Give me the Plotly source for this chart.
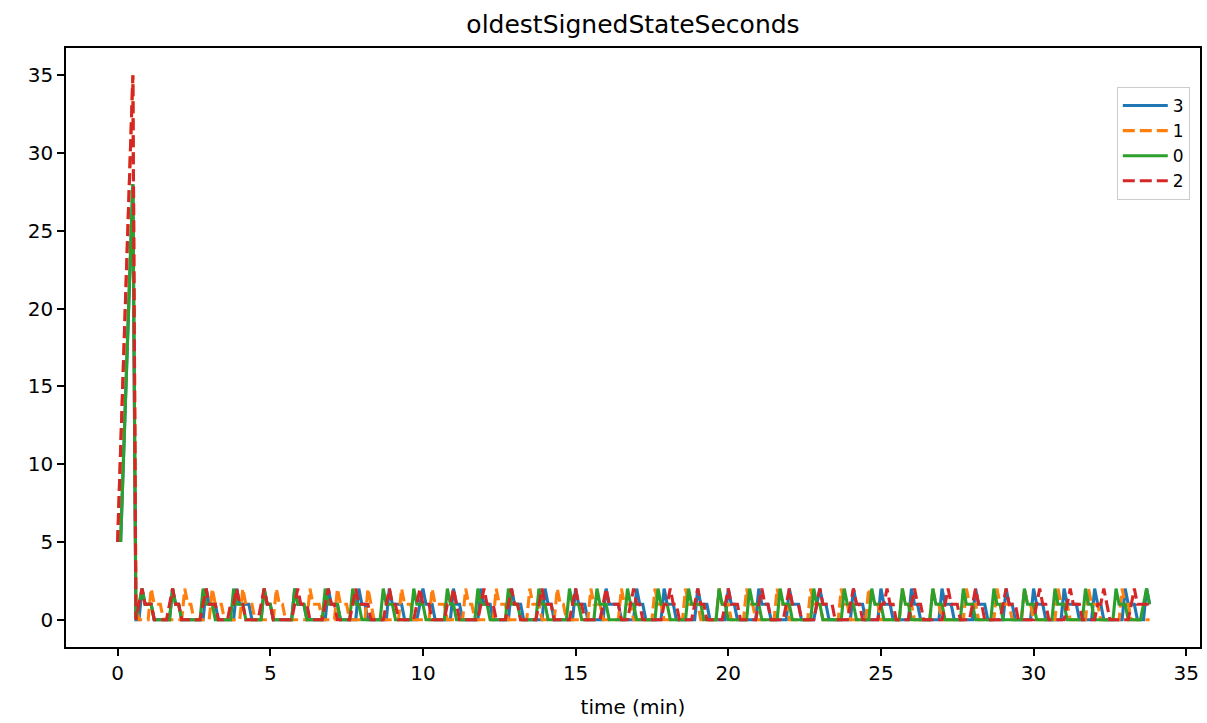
import plotly.graph_objects as go

DT_MIN = 0.1  # sample interval (minutes)

# series "3" (blue)
s3 = ([None, 5, 11, 17, 23, 28, 0, 0]
      + [2, 1, 1, 1, 0, 0, 0, 0, 0, 0]
      + [2, 1, 1, 0, 0, 0, 0, 0, 0, 0, 0]
      + [2, 1, 1, 1, 0, 0, 0, 0, 0, 0]
      + [2, 1, 1, 1, 1, 0, 0, 0, 0]
      + [2, 1, 1, 0, 0, 0, 0, 0, 0, 0]
      + [2, 1, 1, 1, 0, 0, 0, 0, 0, 0, 0]
      + [2, 1, 1, 1, 0, 0, 0, 0, 0, 0]
      + [2, 1, 1, 0, 0, 0, 0, 0, 0, 0]
      + [2, 1, 1, 1, 1, 0, 0, 0, 0, 0, 1]
      + [2, 1, 1, 1, 0, 0, 0, 0, 0, 0]
      + [2, 1, 1, 0, 0, 0, 0, 0, 0]
      + [2, 1, 1, 1, 0, 0, 0, 0, 0, 0]
      + [2, 1, 1, 1, 0, 0, 0, 0, 0, 0, 0]
      + [2, 1, 1, 0, 0, 0, 0, 0, 0, 0]
      + [2, 1, 1, 1, 0, 0, 0, 0, 0, 0]
      + [2, 1, 1, 1, 1, 0, 0, 0, 0, 0]
      + [2, 1, 1, 0, 0, 0, 0, 0, 0]
      + [2, 1, 1, 1, 0, 0, 0, 0, 0, 0, 0]
      + [2, 1, 1, 1, 0, 0, 0, 0, 0, 0]
      + [2, 1, 1, 0, 0, 0, 0, 0, 0, 0]
      + [2, 1, 1, 1, 0, 0, 0, 0, 0, 0]
      + [2, 1, 1, 1, 0, 0, 0, 0, 0, 1]
      + [2, 1, 1, 0, 0, 0, 0, 0, 0, 0, 0]
      + [2, 1, 1, 1, 0, 0, 0, 0, 0]
      + [2, 1, 1, 1, 0, 0, 0, 0, 0, 0]
      + [2, 1, 1, 0, 0, 0, 0, 0, 0, 0]
      + [2, 1, 1, 1, 0, 0, 0, 0, 0, 0, 0]
      + [2, 1, 1, 1, 0, 0, 0, 0, 0, 0]
      + [2, 1, 1, 0, 0, 0, 0, 0, 0]
      + [2, 1, 1, 1, 0, 0, 0, 0, 0, 0]
      + [2, 1, 1, 1, 1, 0, 0, 0, 0, 0]
      + [2, 1, 1, 0, 0, 0, 0, 0, 0, 0]
      + [2, 1, 1, 1, 0, 0, 0, 2, 1])

# series "1" (orange)
s1 = ([5, 11, 17, 23, 29, 35, 1, 0, 0, 0, 0]
      + [2, 1, 1, 1, 0, 0, 0, 0, 0, 0, 0]
      + [2, 1, 1, 0, 0, 0, 0, 0, 0]
      + [2, 1, 1, 1, 0, 0, 0, 0, 0, 0]
      + [2, 1, 1, 1, 0, 0, 0, 0, 0, 0, 0]
      + [2, 1, 1, 0, 0, 0, 0, 0, 0, 0, 0]
      + [2, 1, 1, 1, 0, 0, 0, 0, 0]
      + [2, 1, 1, 1, 0, 0, 0, 0, 0, 0]
      + [2, 1, 0, 0, 0, 0, 0, 0, 0, 0, 0]
      + [2, 1, 1, 1, 0, 0, 0, 0, 0, 0]
      + [2, 1, 1, 1, 1, 0, 0, 0, 0, 0, 0]
      + [2, 1, 1, 0, 0, 0, 0, 0, 0, 0]
      + [2, 1, 1, 1, 0, 0, 0, 0, 0, 0, 0]
      + [2, 1, 1, 1, 0, 0, 0, 0, 0]
      + [2, 1, 1, 0, 0, 0, 0, 0, 0, 0, 0]
      + [2, 1, 1, 1, 0, 0, 0, 0, 0, 0]
      + [2, 1, 1, 1, 0, 0, 0, 0, 0, 0, 0]
      + [2, 1, 1, 0, 0, 0, 0, 0, 0, 0]
      + [2, 1, 1, 1, 1, 0, 0, 0, 0, 0, 0]
      + [2, 1, 1, 1, 0, 0, 0, 0, 0]
      + [2, 1, 1, 0, 0, 0, 0, 0, 0, 0]
      + [2, 1, 1, 1, 0, 0, 0, 0, 0, 0, 0]
      + [2, 1, 1, 1, 0, 0, 0, 0, 0, 0]
      + [2, 1, 1, 0, 0, 0, 0, 0, 0]
      + [2, 1, 1, 1, 0, 0, 0, 0, 0, 0, 0]
      + [2, 1, 1, 1, 0, 0, 0, 0, 0, 0]
      + [2, 1, 1, 0, 0, 0, 0, 0, 0, 0, 0]
      + [2, 1, 1, 1, 0, 0, 0, 0, 0, 0]
      + [2, 1, 1, 1, 1, 0, 0, 0, 0]
      + [2, 1, 1, 0, 0, 0, 0, 0, 0, 0, 0]
      + [2, 1, 1, 1, 0, 0, 0, 0, 0, 0]
      + [2, 1, 1, 1, 0, 0, 0, 0, 0, 0, 0]
      + [2, 1, 1, 0, 0, 0, 0, 0, 0, 0])

# series "0" (green)
s0 = ([None, 5, 11, 17, 23, 28, 0, 1]
      + [2, 1, 1, 1, 0, 0, 0, 0, 0, 0]
      + [2, 1, 1, 0, 0, 0, 0, 0, 0, 0]
      + [2, 1, 1, 1, 0, 0, 0, 0, 0, 0]
      + [2, 1, 1, 1, 0, 0, 0, 0, 0, 0]
      + [2, 1, 1, 0, 0, 0, 0, 0, 0, 0]
      + [2, 1, 1, 1, 0, 0, 0, 0, 0, 0]
      + [2, 1, 1, 1, 1, 0, 0, 0, 0]
      + [2, 1, 1, 0, 0, 0, 0, 0, 0, 0]
      + [2, 1, 1, 1, 0, 0, 0, 0, 0, 0]
      + [2, 1, 1, 1, 0, 0, 0, 0, 0, 0, 0]
      + [2, 1, 1, 0, 0, 0, 0, 0, 0, 0]
      + [2, 1, 1, 1, 0, 0, 0, 0, 0, 0]
      + [2, 1, 1, 1, 0, 0, 0, 0, 0, 0]
      + [2, 1, 1, 0, 0, 0, 0, 0, 0, 0]
      + [2, 1, 1, 1, 0, 0, 0, 0, 0]
      + [2, 1, 1, 1, 0, 0, 0, 0, 0, 0]
      + [2, 1, 1, 0, 0, 0, 0, 0, 0, 0]
      + [2, 1, 1, 1, 0, 0, 0, 0, 0, 0]
      + [2, 1, 1, 1, 1, 0, 0, 0, 0, 0]
      + [2, 1, 1, 0, 0, 0, 0, 0, 0, 0]
      + [2, 1, 1, 1, 0, 0, 0, 0, 0, 0]
      + [2, 1, 1, 1, 0, 0, 0, 0, 0, 0, 0]
      + [2, 1, 1, 0, 0, 0, 0, 0, 0, 0]
      + [2, 1, 1, 1, 0, 0, 0, 0, 0]
      + [2, 1, 1, 1, 0, 0, 0, 0, 0, 0]
      + [2, 1, 1, 0, 0, 0, 0, 0, 0, 0]
      + [2, 1, 1, 1, 0, 0, 0, 0, 0, 0]
      + [2, 1, 1, 1, 0, 0, 0, 0, 0, 0]
      + [2, 1, 1, 0, 0, 0, 0, 0, 0, 0]
      + [2, 1, 1, 1, 0, 0, 0, 0, 0, 0]
      + [2, 1, 1, 1, 0, 0, 0, 0, 0, 0]
      + [2, 1, 1, 0, 0, 0, 0, 0, 0, 0]
      + [2, 1, 1, 1, 0, 0, 0, 0, 0, 1, 2, 1])

# series "2" (red)
s2 = ([5, 11, 17, 23, 29, 35, 0]
      + [1, 2, 1, 1, 1, 0, 0, 0, 0, 0]
      + [1, 2, 1, 1, 0, 0, 0, 0, 0, 0, 0]
      + [1, 2, 1, 1, 1, 0, 0, 0, 0]
      + [1, 1, 2, 1, 1, 0, 0, 0, 0, 0]
      + [1, 2, 1, 1, 0, 0, 0, 0, 0, 0, 0]
      + [1, 2, 1, 1, 1, 0, 0, 0, 0, 0]
      + [1, 2, 1, 1, 0, 0, 0, 0, 0]
      + [1, 2, 1, 1, 1, 1, 0, 0, 0, 0, 0]
      + [1, 2, 1, 1, 0, 0, 0, 0, 0, 0]
      + [1, 2, 1, 1, 1, 0, 0, 0, 0, 0]
      + [1, 1, 2, 1, 0, 0, 0, 0, 0, 0, 0]
      + [1, 2, 1, 1, 1, 0, 0, 0, 0]
      + [1, 2, 1, 1, 0, 0, 0, 0, 0, 0]
      + [1, 2, 1, 1, 1, 0, 0, 0, 0, 0, 0]
      + [1, 2, 1, 1, 0, 0, 0, 0, 0, 0]
      + [1, 2, 1, 1, 1, 1, 0, 0, 0]
      + [1, 2, 1, 1, 0, 0, 0, 0, 0, 0, 0]
      + [1, 1, 2, 1, 1, 0, 0, 0, 0, 0]
      + [1, 2, 1, 1, 0, 0, 0, 0, 0, 0]
      + [1, 2, 1, 1, 1, 0, 0, 0, 0, 0, 0]
      + [1, 2, 1, 1, 0, 0, 0, 0, 0]
      + [1, 2, 1, 1, 1, 0, 0, 0, 0, 0]
      + [1, 2, 1, 1, 1, 1, 0, 0, 0, 0, 0]
      + [1, 2, 1, 1, 0, 0, 0, 0, 0, 0]
      + [1, 1, 2, 1, 1, 0, 0, 0, 0, 0]
      + [1, 2, 1, 1, 0, 0, 0, 0, 0, 0, 0]
      + [1, 2, 1, 1, 1, 0, 0, 0, 0]
      + [1, 2, 1, 1, 0, 0, 0, 0, 0, 0]
      + [1, 2, 1, 1, 1, 0, 0, 0, 0, 0, 0]
      + [1, 2, 1, 1, 0, 0, 0, 0, 0, 0]
      + [1, 2, 1, 1, 1, 0, 0, 0, 0, 0]
      + [1, 1, 2, 1, 0, 0, 0, 0, 0, 0, 0]
      + [1, 2, 1, 1, 1, 1, 1])

series_names = ["3", "1", "0", "2"]
series_values = [s3, s1, s0, s2]
series_colors = ["#1f77b4", "#ff7f0e", "#2ca02c", "#d62728"]
series_dash = ["solid", "12px,5px", "solid", "12px,5px"]

x_ticks = [0, 5, 10, 15, 20, 25, 30, 35]
y_ticks = [0, 5, 10, 15, 20, 25, 30, 35]

fig = go.Figure()
for name, vals, col, dash in zip(series_names, series_values, series_colors, series_dash):
    t = [round(DT_MIN * i, 2) for i in range(len(vals))]
    fig.add_trace(go.Scatter(
        x=t, y=vals, name=name, mode="lines",
        line=dict(color=col, width=3.1, dash=dash),
        connectgaps=False,
    ))

font_family = "DejaVu Sans"
axis_common = dict(
    showline=True, mirror=True, linecolor="black", linewidth=1.6,
    ticks="outside", ticklen=7, tickwidth=1.6, tickcolor="black",
    showgrid=False, zeroline=False,
    tickfont=dict(family=font_family, size=20, color="black"),
)

W, H = 1207, 723
fig.update_layout(
    width=W, height=H,
    margin=dict(l=66, r=7, t=48, b=76),
    paper_bgcolor="white", plot_bgcolor="white",
    title=dict(text="oldestSignedStateSeconds", x=(66 + W - 7) / 2 / W, xanchor="center",
               y=1 - 24 / H, yanchor="middle", yref="container",
               font=dict(family=font_family, size=25, color="black")),
    xaxis=dict(range=[-1.69, 35.45], tickvals=x_ticks,
               title=dict(text="time (min)", standoff=16,
                          font=dict(family=font_family, size=20, color="black")),
               automargin=False,
               **axis_common),
    yaxis=dict(range=[-1.75, 36.75], tickvals=y_ticks, automargin=False, **axis_common),
    legend=dict(x=0.991, y=0.935, xanchor="right", yanchor="top",
                bgcolor="rgba(255,255,255,0.8)", bordercolor="#cccccc", borderwidth=1,
                font=dict(family=font_family, size=17, color="black"),
                itemwidth=45, tracegroupgap=0),
    showlegend=True,
)

fig.write_html("out.html", config={"displayModeBar": False},
               post_script="document.body.style.margin='0px';document.body.style.overflow='hidden';")
